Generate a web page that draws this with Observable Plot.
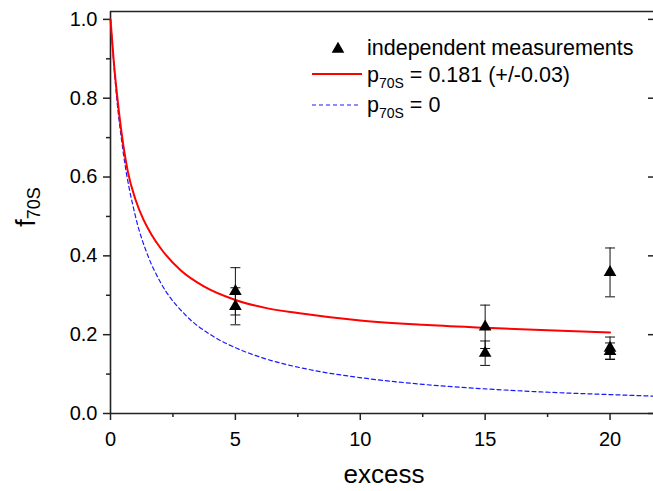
<!DOCTYPE html>
<html>
<head>
<meta charset="utf-8">
<script src="https://cdn.jsdelivr.net/npm/d3@7"></script>
<script src="https://cdn.jsdelivr.net/npm/@observablehq/plot@0.6"></script>
<style>
  html, body { margin: 0; padding: 0; background: #fff; overflow: hidden; }
  #chart svg { display: block; }
</style>
</head>
<body>
<div id="chart"></div>
<script>
// ---- data ----
const xMajorTicks = [0, 5, 10, 15, 20];
const xMinorTicks = [2.5, 7.5, 12.5, 17.5];
const yMajorTicks = [0, 0.2, 0.4, 0.6, 0.8, 1.0];
const yMinorTicks = [0.1, 0.3, 0.5, 0.7, 0.9];

// independent measurements (excess, f70S, error)
const measX   = [5, 5, 15, 15, 20, 20, 20];
const measY   = [0.31, 0.272, 0.22, 0.153, 0.358, 0.166, 0.158];
const measErr = [0.06, 0.047, 0.055, 0.031, 0.062, 0.028, 0.021];

// red fitted curve p70S = 0.181
const redX = [0, 0.13, 0.33, 0.69, 1.0, 1.32, 1.65, 2.0, 2.83, 3.72, 5, 6.2, 7.5, 10, 12.5, 15, 17.5, 20];
const redY = [1.0, 0.894, 0.77, 0.615, 0.543, 0.492, 0.453, 0.42, 0.362, 0.323, 0.288, 0.268, 0.255, 0.236, 0.225, 0.2175, 0.211, 0.2056];

// blue dashed curve p70S = 0
const blueX = [0, 0.25, 0.5, 1, 1.5, 2, 3, 4, 5, 6, 8, 10, 12.5, 15, 17.5, 20, 21.74];
const blueY = [1.0, 0.8, 0.667, 0.5, 0.4, 0.333, 0.25, 0.2, 0.167, 0.143, 0.111, 0.091, 0.074, 0.0625, 0.054, 0.048, 0.044];

const legendLabels = ["independent measurements", " = 0.181 (+/-0.03)", " = 0"];

// ---- tables built from the arrays ----
const meas = measX.map((x, i) => ({x, y: measY[i], e: measErr[i]}));
const caps = meas.flatMap(d => [{x: d.x, y: d.y - d.e}, {x: d.x, y: d.y + d.e}]);
const red = redX.map((x, i) => ({x, y: redY[i]}));
const blue = blueX.map((x, i) => ({x, y: blueY[i]}));

const capSymbol = {
  draw(context, size) {
    const w = 5;
    context.moveTo(-w, 0);
    context.lineTo(w, 0);
  }
};

const font = "'Liberation Sans', Arial, Helvetica, sans-serif";
const axisColor = "#222";
const W = 653, mL = 110, mR = 0;

const chart = Plot.plot({
  width: W,
  height: 491,
  marginLeft: mL,
  marginTop: 11,
  marginRight: mR,
  marginBottom: 78,
  x: {domain: [0, 21.74]},
  y: {domain: [0, 1.02]},
  style: {fontFamily: font, color: "#000", background: "#fff", overflow: "visible"},
  marks: [
    // frame lines
    Plot.ruleX([0], {stroke: axisColor, strokeWidth: 1.6}),
    Plot.ruleY([0], {stroke: axisColor, strokeWidth: 1.6}),
    Plot.ruleY([1.02], {stroke: axisColor, strokeWidth: 1.6}),
    // axes
    Plot.axisY({ticks: yMajorTicks, tickSize: 7, tickPadding: 6, tickFormat: d3.format(".1f"),
      fontSize: 20, label: null, stroke: axisColor, strokeWidth: 1.5}),
    Plot.axisY({ticks: yMinorTicks, tickSize: 4, tickFormat: () => "", label: null, stroke: axisColor, strokeWidth: 1.5}),
    // inward ticks on the right edge
    Plot.axisY({ticks: yMajorTicks, tickSize: 5, tickFormat: () => "", label: null, dx: W - mL - mR,
      stroke: axisColor, strokeWidth: 1.5}),
    Plot.axisX({ticks: xMajorTicks, tickSize: 7, tickPadding: 11, tickFormat: d3.format("d"),
      fontSize: 20, label: null, stroke: axisColor, strokeWidth: 1.5}),
    Plot.axisX({ticks: xMinorTicks, tickSize: 4, tickFormat: () => "", label: null, stroke: axisColor, strokeWidth: 1.5}),
    // curves
    Plot.line(blue, {x: "x", y: "y", stroke: "#1a1aff", strokeWidth: 1.2, strokeDasharray: "4,3", curve: "monotone-x"}),
    Plot.line(red, {x: "x", y: "y", stroke: "#ff0000", strokeWidth: 2, curve: "monotone-x"}),
    // error bars
    Plot.ruleX(meas, {x: "x", y1: d => d.y - d.e, y2: d => d.y + d.e, stroke: "#111", strokeWidth: 1}),
    Plot.dot(caps, {x: "x", y: "y", symbol: capSymbol, stroke: "#111", strokeWidth: 1, r: 3}),
    // points
    Plot.dot(meas, {x: "x", y: "y", symbol: "triangle", r: 4.7, fill: "#000", stroke: "none"})
  ]
});

document.getElementById("chart").appendChild(chart);

// ---- axis titles and legend (real text) ----
const svg = d3.select(chart);
const g = svg.append("g").attr("font-family", font).attr("fill", "#000").attr("text-anchor", "start");

// x title
g.append("text").attr("x", 384).attr("y", 483).attr("text-anchor", "middle")
  .attr("font-size", 26).text("excess");

// y title
const yt = g.append("text").attr("transform", "translate(35,207) rotate(-90)")
  .attr("text-anchor", "middle").attr("font-size", 27);
yt.append("tspan").text("f");
yt.append("tspan").attr("font-size", 18).attr("dy", 5).text("70S");

// legend
const lf = 21.5, sf = 14;
g.append("path")
  .attr("d", d3.symbol(d3.symbolTriangle, Math.PI * 4.7 * 4.7)())
  .attr("transform", "translate(338,49)").attr("fill", "#000");
g.append("text").attr("x", 367).attr("y", 55).attr("font-size", lf).text(legendLabels[0]);

g.append("line").attr("x1", 312).attr("x2", 362).attr("y1", 74).attr("y2", 74)
  .attr("stroke", "#ff0000").attr("stroke-width", 2);
const t2 = g.append("text").attr("x", 367).attr("y", 82).attr("font-size", lf);
t2.append("tspan").text("p");
t2.append("tspan").attr("font-size", sf).attr("dy", 6).text("70S");
t2.append("tspan").attr("dy", -6).text(legendLabels[1]);

g.append("line").attr("x1", 312).attr("x2", 358).attr("y1", 105).attr("y2", 105)
  .attr("stroke", "#1a1aff").attr("stroke-width", 1.2).attr("stroke-dasharray", "4,3");
const t3 = g.append("text").attr("x", 367).attr("y", 112).attr("font-size", lf);
t3.append("tspan").text("p");
t3.append("tspan").attr("font-size", sf).attr("dy", 6).text("70S");
t3.append("tspan").attr("dy", -6).text(legendLabels[2]);
</script>
</body>
</html>
